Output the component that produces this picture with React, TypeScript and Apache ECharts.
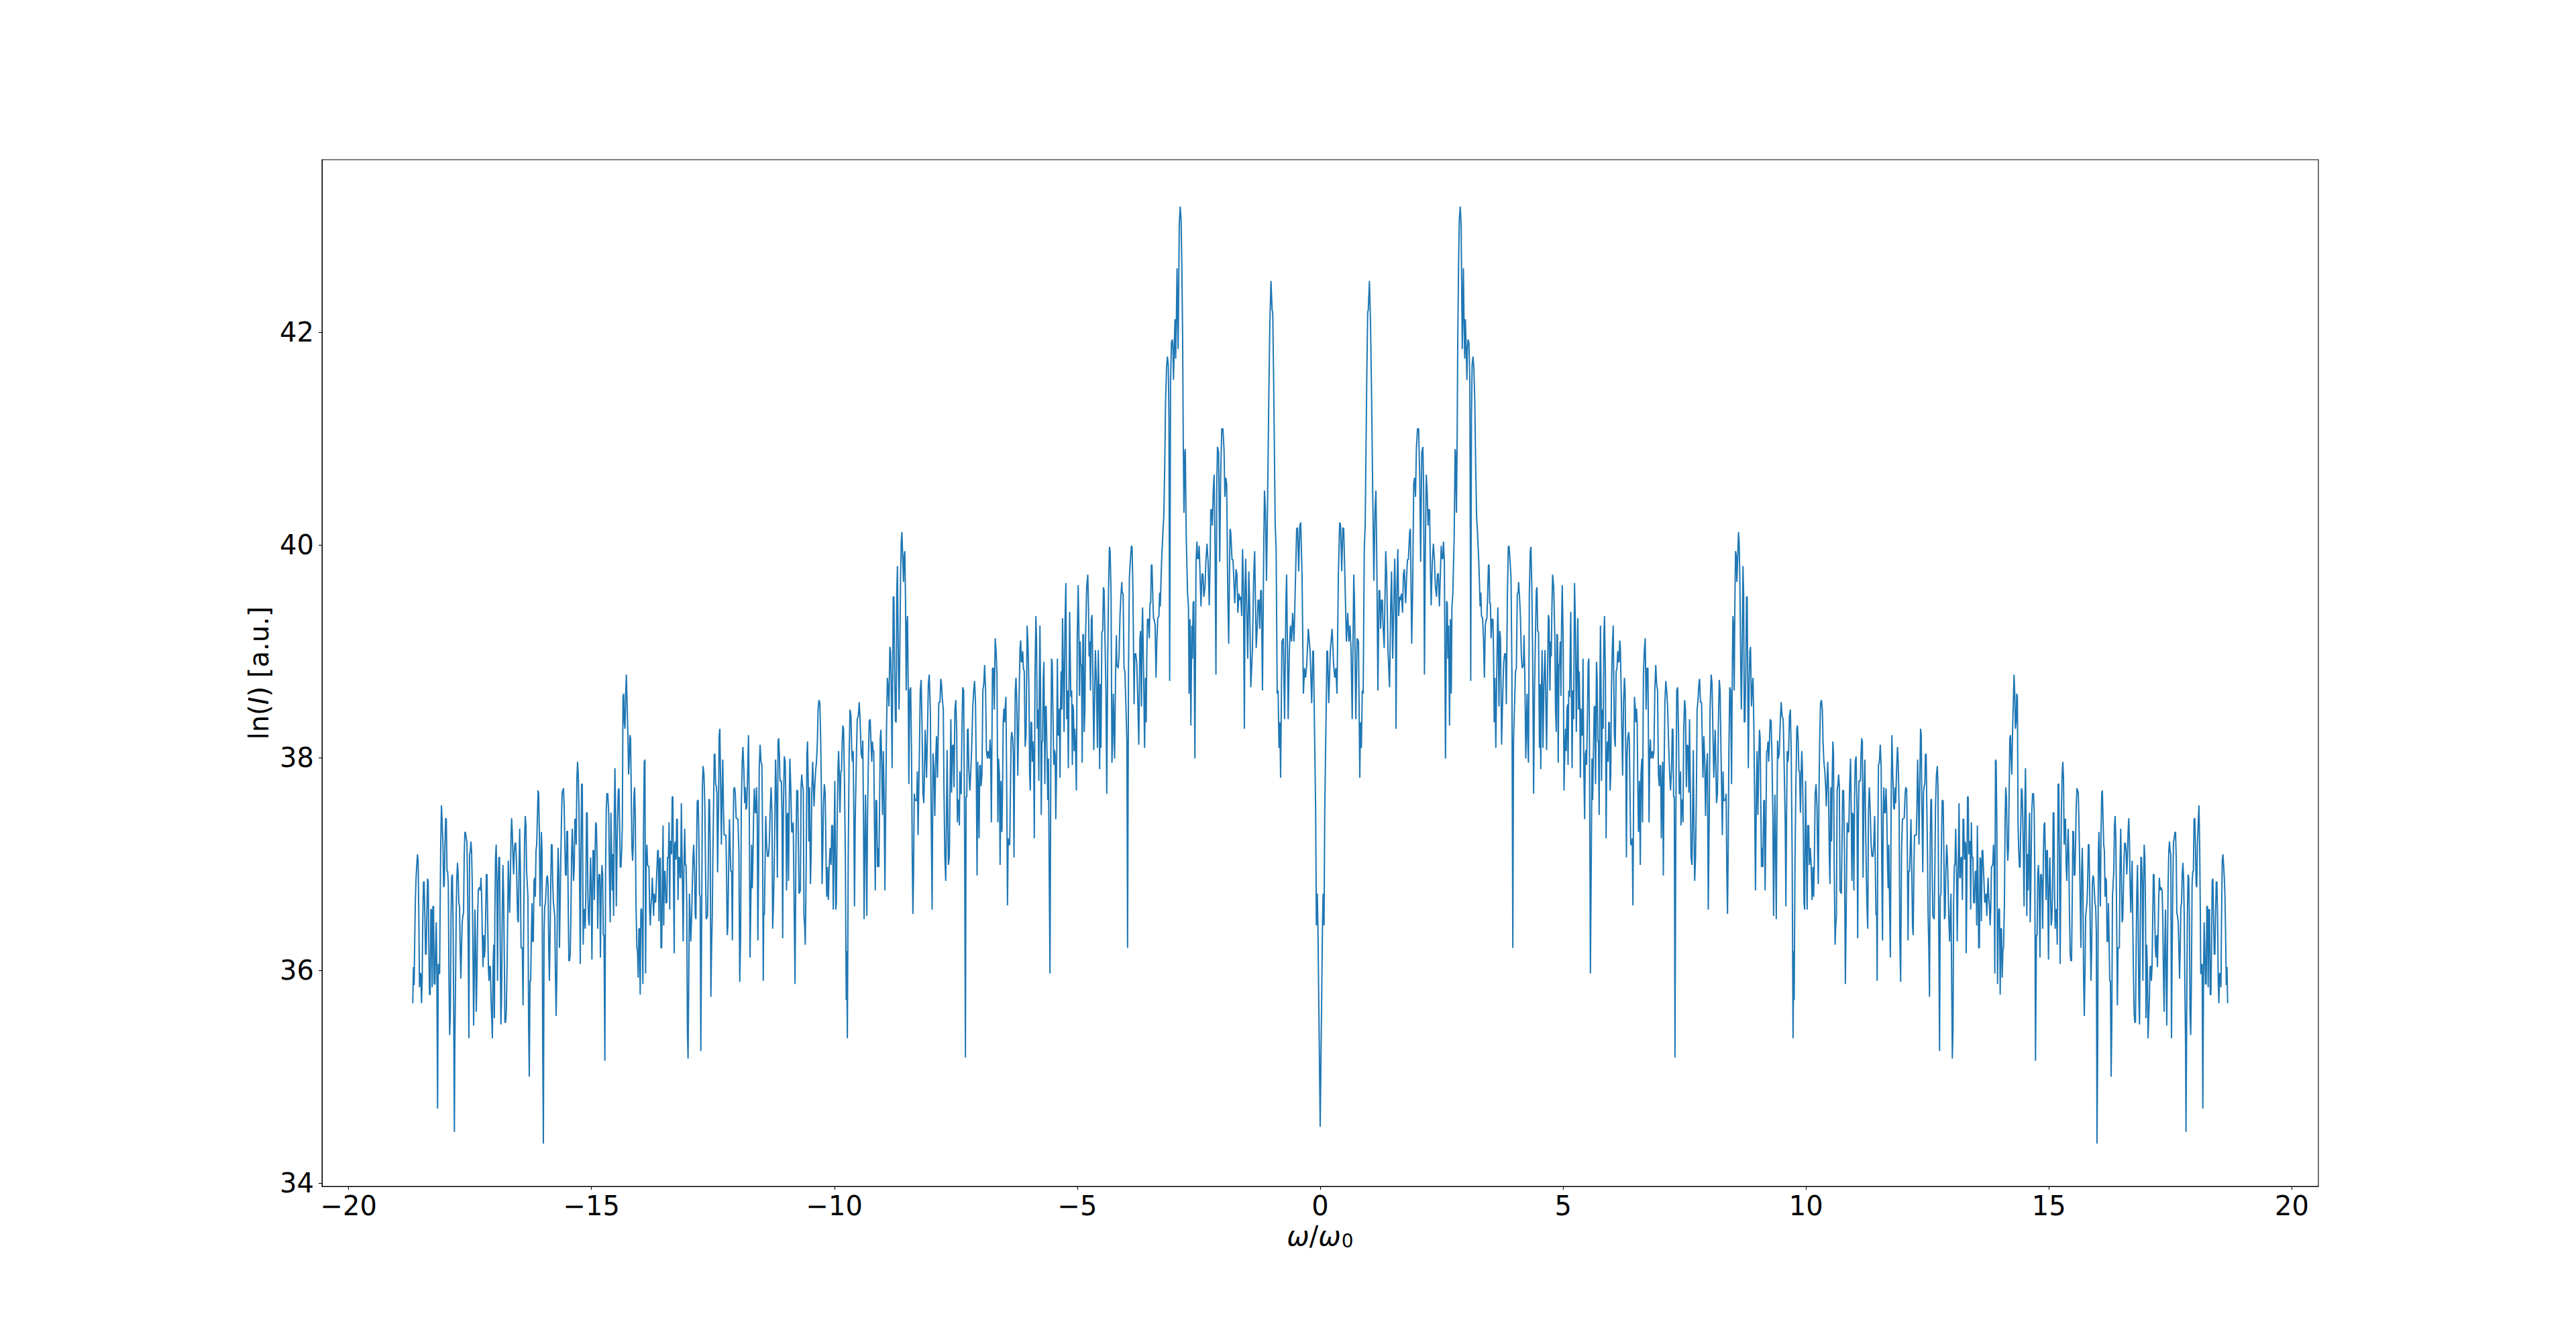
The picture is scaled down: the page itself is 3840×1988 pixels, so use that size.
import React, { useEffect, useRef } from "react";
import * as echarts from "echarts";

// Spectrum readings for ω/ω0 >= 0, as [ω/ω0, ln(I)] vertices.
// The reference is mirror-symmetric about ω = 0; the negative half is the reflection of these readings.
const SEG_0_4: [number, number][] = [
  [0, 34.53], [0.047, 36.42], [0.06, 36.72], [0.079, 36.42], [0.093, 37.48], [0.139, 39.0], [0.152, 39.0], [0.175, 38.51], [0.208, 39.0], [0.245, 39.21],
  [0.277, 38.87], [0.3, 38.75], [0.323, 38.84], [0.346, 38.6], [0.374, 39.72], [0.401, 40.21], [0.42, 40.18], [0.443, 39.75], [0.466, 40.16], [0.484, 40.15],
  [0.507, 39.72], [0.539, 39.09], [0.567, 39.36], [0.59, 39.09], [0.613, 39.24], [0.636, 39.0], [0.659, 38.36], [0.691, 39.72], [0.705, 39.48], [0.733, 38.36],
  [0.76, 39.12], [0.788, 39.09], [0.815, 37.81], [0.829, 38.33], [0.848, 38.09], [0.866, 38.63], [0.885, 38.6], [0.907, 39.96], [0.926, 40.18], [0.958, 41.54],
  [0.977, 42.18], [0.99, 42.21], [1.013, 42.48], [1.036, 42.09], [1.059, 41.36], [1.082, 40.45], [1.105, 39.66], [1.128, 40.33], [1.147, 40.51], [1.165, 39.84],
  [1.188, 38.63], [1.211, 39.57], [1.225, 39.57], [1.244, 39.21], [1.262, 39.48], [1.28, 39.48], [1.294, 39.24], [1.317, 39.03], [1.349, 39.94], [1.368, 39.72],
  [1.396, 39.0], [1.428, 38.66], [1.451, 39.42], [1.469, 39.75], [1.492, 38.93], [1.511, 39.36], [1.534, 39.87], [1.547, 39.54], [1.561, 38.27], [1.58, 39.6],
  [1.598, 39.96], [1.616, 39.33], [1.635, 39.51], [1.653, 39.48], [1.672, 39.54], [1.695, 39.36], [1.713, 39.72], [1.732, 39.77], [1.759, 39.45], [1.778, 39.69],
  [1.796, 39.86], [1.815, 39.86], [1.842, 40.12], [1.856, 40.15], [1.884, 39.07], [1.902, 39.54], [1.925, 40.57], [1.943, 40.63], [1.962, 40.45], [1.98, 40.9],
  [2.003, 41.09], [2.026, 41.09], [2.049, 40.63], [2.068, 39.84], [2.091, 40.87], [2.114, 40.92], [2.128, 40.57], [2.146, 38.78], [2.164, 39.96], [2.183, 40.66],
  [2.201, 40.51], [2.22, 40.18], [2.233, 40.33], [2.252, 40.33], [2.266, 39.84], [2.284, 39.43], [2.307, 39.84], [2.33, 40.01], [2.353, 39.84], [2.371, 39.6],
  [2.395, 39.51], [2.413, 39.72], [2.431, 39.73], [2.454, 39.42], [2.473, 39.72], [2.491, 39.99], [2.505, 39.87], [2.524, 39.87], [2.537, 40.03], [2.556, 39.84],
  [2.579, 37.99], [2.602, 39.47], [2.616, 39.45], [2.629, 38.93], [2.643, 39.24], [2.662, 38.3], [2.68, 39.3], [2.698, 38.6], [2.712, 39.42], [2.73, 39.54],
  [2.758, 40.09], [2.777, 40.9], [2.786, 40.87], [2.804, 40.3], [2.818, 40.93], [2.832, 41.96], [2.85, 42.69], [2.864, 43.06], [2.883, 43.18], [2.901, 43.0],
  [2.924, 41.84], [2.947, 42.6], [2.961, 42.09], [2.975, 41.75], [2.988, 42.12], [3.002, 41.9], [3.02, 41.55], [3.03, 41.84], [3.044, 41.93], [3.062, 41.9],
  [3.08, 41.54], [3.099, 38.72], [3.113, 41.18], [3.127, 41.69], [3.145, 41.77], [3.163, 41.66], [3.182, 41.36], [3.2, 40.75], [3.219, 40.27], [3.237, 40.12],
  [3.265, 39.84], [3.292, 39.42], [3.306, 39.55], [3.32, 39.33], [3.343, 39.31], [3.361, 39.12], [3.38, 38.75], [3.398, 39.24], [3.417, 39.3], [3.43, 39.3],
  [3.444, 39.48], [3.463, 39.81], [3.476, 39.81], [3.49, 39.45], [3.504, 39.45], [3.518, 39.12], [3.536, 39.3], [3.555, 39.3], [3.569, 38.97], [3.582, 38.33],
  [3.596, 38.75], [3.615, 38.09], [3.633, 38.75], [3.656, 39.41], [3.665, 39.24], [3.679, 38.48], [3.697, 39.19], [3.711, 39.12], [3.734, 38.12], [3.753, 38.51],
  [3.776, 38.89], [3.799, 38.98], [3.817, 38.97], [3.831, 38.5], [3.854, 39.54], [3.872, 39.98], [3.886, 39.99], [3.909, 39.84], [3.928, 39.69], [3.946, 38.81],
  [3.965, 36.21],
];

const SEG_4_8: [number, number][] = [
  [3.979, 38.15], [4.001, 38.51], [4.02, 38.81], [4.038, 38.84], [4.057, 39.54], [4.075, 39.55], [4.084, 39.65], [4.103, 39.51], [4.121, 39.33], [4.14, 38.97],
  [4.158, 38.84], [4.186, 38.87], [4.195, 39.15], [4.213, 38.75], [4.232, 37.99], [4.246, 38.33], [4.259, 38.6], [4.273, 38.15], [4.287, 37.95], [4.305, 39.54],
  [4.324, 39.94], [4.338, 39.98], [4.356, 39.6], [4.374, 38.93], [4.393, 37.66], [4.411, 38.63], [4.43, 39.12], [4.448, 39.57], [4.462, 39.6], [4.476, 39.19],
  [4.494, 39.18], [4.513, 38.09], [4.526, 38.69], [4.54, 37.89], [4.554, 38.63], [4.568, 39.01], [4.586, 38.09], [4.605, 38.69], [4.628, 39.01], [4.641, 38.63],
  [4.66, 38.07], [4.678, 38.72], [4.697, 39.34], [4.711, 39.3], [4.729, 38.63], [4.743, 39.09], [4.757, 38.95], [4.77, 39.42], [4.784, 39.72], [4.807, 39.6],
  [4.83, 39.12], [4.844, 38.45], [4.858, 38.24], [4.872, 39.16], [4.885, 39.15], [4.899, 37.95], [4.913, 38.87], [4.927, 38.87], [4.941, 39.09], [4.955, 38.58],
  [4.968, 39.24], [4.982, 39.62], [5.001, 39.12], [5.019, 37.69], [5.037, 38.12], [5.051, 38.27], [5.065, 38.06], [5.079, 38.45], [5.093, 38.5], [5.102, 37.93],
  [5.116, 38.63], [5.134, 38.57], [5.157, 39.37], [5.171, 38.63], [5.185, 37.9], [5.199, 38.63], [5.217, 38.36], [5.235, 39.64], [5.254, 39.24], [5.272, 38.24],
  [5.286, 38.75], [5.304, 39.31], [5.318, 38.45], [5.332, 38.81], [5.346, 38.45], [5.355, 37.81], [5.369, 38.46], [5.383, 38.21], [5.396, 38.21], [5.41, 38.93],
  [5.424, 37.98], [5.443, 37.42], [5.456, 38.03], [5.47, 38.07], [5.484, 37.93], [5.502, 38.45], [5.516, 38.89], [5.53, 38.93], [5.544, 38.03], [5.562, 35.97],
  [5.581, 37.12], [5.594, 37.99], [5.608, 37.6], [5.622, 37.99], [5.641, 38.48], [5.654, 38.48], [5.668, 37.75], [5.687, 38.9], [5.7, 38.75], [5.714, 38.15],
  [5.728, 38.15], [5.742, 37.46], [5.756, 38.63], [5.769, 39.24], [5.783, 38.57], [5.792, 37.78], [5.806, 38.45], [5.825, 38.27], [5.839, 39.12], [5.852, 39.33],
  [5.871, 38.75], [5.885, 37.24], [5.898, 37.99], [5.912, 38.15], [5.926, 37.96], [5.94, 38.33], [5.954, 38.33], [5.967, 37.69], [5.981, 37.84], [5.995, 38.63],
  [6.013, 39.03], [6.032, 39.24], [6.055, 38.21], [6.073, 38.1], [6.092, 38.81], [6.11, 38.84], [6.124, 39.0], [6.138, 38.9], [6.152, 38.9], [6.165, 39.1],
  [6.179, 39.03], [6.202, 38.45], [6.225, 37.83], [6.244, 38.51], [6.262, 38.75], [6.276, 38.63], [6.29, 38.03], [6.303, 37.06], [6.317, 38.03], [6.331, 38.18],
  [6.35, 38.24], [6.363, 38.16], [6.377, 37.66], [6.391, 37.18], [6.409, 37.18], [6.423, 37.24], [6.437, 36.61], [6.451, 37.63], [6.469, 38.57], [6.483, 38.48],
  [6.497, 38.33], [6.511, 38.46], [6.525, 38.33], [6.538, 37.72], [6.552, 37.3], [6.571, 37.78], [6.589, 36.99], [6.603, 37.84], [6.621, 37.99], [6.635, 37.39],
  [6.653, 38.78], [6.672, 39.01], [6.69, 39.12], [6.709, 38.45], [6.727, 38.84], [6.746, 38.84], [6.769, 37.39], [6.782, 38.03], [6.796, 38.17], [6.81, 37.99],
  [6.838, 38.06], [6.851, 37.99], [6.87, 38.06], [6.888, 38.63], [6.907, 38.87], [6.925, 38.69], [6.944, 38.63], [6.962, 37.84], [6.98, 37.73], [6.994, 37.93],
  [7.008, 37.92], [7.022, 37.24], [7.035, 37.66], [7.049, 37.96], [7.063, 36.89], [7.077, 37.78], [7.095, 38.51], [7.114, 38.72], [7.132, 38.63], [7.151, 38.48],
  [7.174, 38.09], [7.192, 37.87], [7.211, 37.69], [7.234, 37.9], [7.247, 38.27], [7.261, 38.26], [7.275, 37.63], [7.289, 37.63], [7.303, 35.18], [7.321, 37.42],
  [7.339, 38.63], [7.358, 38.66], [7.376, 38.21], [7.39, 37.66], [7.404, 37.66], [7.418, 37.87], [7.427, 37.36], [7.445, 37.6], [7.459, 37.6], [7.468, 37.39],
  [7.482, 38.24], [7.501, 38.54], [7.519, 38.45], [7.537, 37.72], [7.556, 38.12], [7.574, 38.1], [7.588, 37.67], [7.602, 38.36], [7.62, 37.66], [7.634, 37.06],
  [7.653, 36.99], [7.666, 37.51], [7.68, 38.07], [7.694, 37.36], [7.708, 36.84], [7.726, 37.06], [7.745, 37.72], [7.758, 38.45], [7.777, 38.54], [7.795, 38.69],
  [7.809, 38.74], [7.827, 38.52], [7.85, 38.52], [7.878, 37.81], [7.897, 38.2],
];

const SEG_8_12: [number, number][] = [
  [7.914, 37.99], [7.933, 37.45], [7.951, 37.9], [7.97, 38.04], [7.988, 36.57], [8.007, 37.42], [8.025, 38.45], [8.048, 38.78], [8.066, 38.69], [8.085, 38.21],
  [8.103, 37.81], [8.117, 38.06], [8.131, 38.26], [8.145, 37.9], [8.158, 37.57], [8.177, 37.66], [8.195, 38.27], [8.214, 38.73], [8.232, 38.63], [8.251, 38.03],
  [8.264, 37.66], [8.278, 37.27], [8.292, 37.87], [8.306, 37.59], [8.324, 37.6], [8.343, 37.6], [8.356, 37.66], [8.37, 36.93], [8.384, 36.53], [8.398, 37.12],
  [8.412, 38.03], [8.43, 38.66], [8.449, 38.63], [8.467, 37.75], [8.481, 38.69], [8.495, 39.33], [8.508, 39.24], [8.522, 38.63], [8.536, 39.48], [8.55, 39.94],
  [8.564, 39.9], [8.577, 39.65], [8.591, 39.84], [8.61, 40.12], [8.623, 40.03], [8.637, 39.72], [8.656, 38.87], [8.669, 38.45], [8.683, 38.87], [8.702, 39.8],
  [8.716, 39.54], [8.729, 38.33], [8.743, 38.34], [8.762, 38.87], [8.775, 39.51], [8.789, 39.51], [8.798, 38.87], [8.812, 37.9], [8.831, 38.75], [8.844, 39.0],
  [8.858, 39.04], [8.877, 38.48], [8.89, 38.63], [8.909, 38.75], [8.927, 38.27], [8.941, 37.66], [8.96, 36.75], [8.978, 37.66], [8.992, 38.06], [9.01, 37.46],
  [9.024, 37.9], [9.042, 38.26], [9.056, 38.18], [9.07, 37.54], [9.084, 36.97], [9.098, 37.15], [9.112, 36.97], [9.13, 37.59], [9.144, 37.6], [9.158, 36.75],
  [9.176, 37.42], [9.19, 38.06], [9.204, 38.06], [9.217, 38.15], [9.231, 37.96], [9.25, 38.18], [9.263, 38.36], [9.282, 38.34], [9.3, 37.99], [9.319, 37.42],
  [9.332, 36.51], [9.346, 37.12], [9.36, 37.65], [9.374, 37.12], [9.388, 36.48], [9.401, 37.42], [9.415, 38.16], [9.429, 37.99], [9.448, 38.03], [9.461, 38.21],
  [9.475, 38.39], [9.489, 38.52], [9.507, 38.39], [9.53, 38.36], [9.549, 37.96], [9.572, 37.39], [9.586, 36.6], [9.599, 37.42], [9.613, 38.06], [9.627, 37.96],
  [9.641, 38.03], [9.659, 38.39], [9.678, 38.45], [9.696, 38.03], [9.715, 37.06], [9.733, 35.36], [9.747, 36.18], [9.756, 35.72], [9.774, 37.06], [9.793, 37.78],
  [9.811, 38.27], [9.825, 38.3], [9.839, 38.15], [9.853, 37.87], [9.867, 37.87], [9.885, 37.48], [9.899, 37.84], [9.913, 38.06], [9.926, 37.9], [9.945, 37.3],
  [9.959, 36.63], [9.972, 36.57], [9.991, 37.78], [10.005, 37.24], [10.023, 36.57], [10.037, 37.36], [10.055, 37.36], [10.069, 36.99], [10.088, 37.15], [10.106, 36.99],
  [10.124, 36.66], [10.143, 36.97], [10.157, 36.69], [10.17, 36.99], [10.189, 37.66], [10.207, 37.75], [10.226, 37.54], [10.239, 37.12], [10.253, 36.81], [10.267, 37.66],
  [10.281, 38.15], [10.299, 38.51], [10.318, 38.54], [10.336, 38.45], [10.35, 38.15], [10.368, 37.96], [10.387, 37.87], [10.405, 37.72], [10.419, 37.54], [10.433, 37.75],
  [10.447, 37.96], [10.465, 37.66], [10.479, 37.09], [10.493, 36.81], [10.511, 37.72], [10.525, 37.21], [10.539, 37.78], [10.553, 38.15], [10.566, 38.03], [10.58, 36.99],
  [10.599, 36.24], [10.612, 36.42], [10.626, 36.51], [10.64, 37.69], [10.658, 37.75], [10.672, 37.84], [10.686, 37.72], [10.7, 36.75], [10.727, 36.72], [10.741, 37.18],
  [10.755, 37.69], [10.774, 37.69], [10.792, 37.12], [10.81, 35.87], [10.829, 36.63], [10.847, 37.39], [10.866, 37.3], [10.879, 37.3], [10.898, 37.72], [10.916, 37.99],
  [10.93, 37.54], [10.944, 36.84], [10.958, 37.48], [10.972, 37.45], [10.985, 36.75], [10.999, 37.6], [11.013, 37.96], [11.031, 38.01], [11.05, 37.51], [11.064, 36.3],
  [11.077, 37.42], [11.091, 37.78], [11.119, 37.78], [11.133, 38.03], [11.146, 38.18], [11.16, 38.15], [11.174, 36.87], [11.192, 37.63], [11.211, 37.98], [11.225, 37.42],
  [11.243, 36.87], [11.257, 36.57], [11.271, 36.39], [11.285, 37.48], [11.303, 37.72], [11.321, 37.51], [11.34, 37.18], [11.358, 37.07], [11.377, 37.07], [11.395, 37.18],
  [11.413, 37.45], [11.427, 36.99], [11.441, 36.52], [11.455, 36.54], [11.464, 35.9], [11.478, 37.24], [11.492, 37.93], [11.51, 37.96], [11.529, 38.12], [11.547, 37.9],
  [11.561, 36.93], [11.575, 36.28], [11.588, 37.42], [11.602, 37.72], [11.616, 37.48], [11.63, 37.48], [11.648, 37.71], [11.662, 37.48], [11.676, 37.06], [11.69, 36.77],
  [11.704, 37.18], [11.717, 36.75], [11.736, 36.12], [11.754, 37.66], [11.768, 38.21], [11.786, 37.84], [11.805, 37.53], [11.819, 37.51], [11.832, 37.72], [11.846, 37.57],
  [11.865, 37.9], [11.883, 38.1], [11.897, 37.96],
];

const SEG_12_16: [number, number][] = [
  [11.916, 37.54], [11.93, 36.33], [11.948, 35.89], [11.966, 37.12], [11.985, 37.42], [12.022, 37.43], [12.04, 37.66], [12.054, 37.72], [12.072, 37.7], [12.086, 37.12],
  [12.1, 36.28], [12.114, 36.93], [12.132, 36.93], [12.146, 37.15], [12.16, 37.42], [12.178, 36.93], [12.192, 36.42], [12.206, 36.33], [12.22, 36.93], [12.233, 37.27],
  [12.27, 37.27], [12.284, 37.54], [12.298, 37.98], [12.312, 37.66], [12.326, 37.18], [12.339, 37.66], [12.358, 38.27], [12.372, 38.21], [12.385, 37.54], [12.404, 36.92],
  [12.418, 37.66], [12.431, 37.73], [12.445, 37.75], [12.459, 38.03], [12.473, 38.03], [12.487, 37.54], [12.5, 37.12], [12.514, 36.51], [12.528, 36.21], [12.542, 35.75],
  [12.556, 37.18], [12.57, 37.6], [12.583, 37.61], [12.597, 36.93], [12.611, 36.51], [12.639, 36.48], [12.652, 36.93], [12.666, 37.54], [12.685, 37.84], [12.703, 37.92],
  [12.717, 37.72], [12.731, 36.51], [12.749, 35.24], [12.763, 36.69], [12.777, 36.72], [12.791, 37.3], [12.804, 37.6], [12.823, 37.59], [12.837, 37.12], [12.85, 36.48],
  [12.864, 36.51], [12.878, 36.93], [12.896, 37.18], [12.91, 37.06], [12.924, 36.81], [12.938, 36.51], [12.956, 36.27], [12.97, 36.51], [12.984, 36.72], [12.998, 35.9],
  [13.012, 35.17], [13.025, 35.42], [13.039, 36.63], [13.053, 36.99], [13.067, 36.99], [13.081, 37.33], [13.099, 36.9], [13.113, 36.27], [13.127, 36.81], [13.141, 37.24],
  [13.15, 37.57], [13.164, 36.87], [13.177, 36.87], [13.191, 37.06], [13.205, 37.06], [13.219, 36.66], [13.233, 37.42], [13.246, 37.42], [13.26, 37.04], [13.274, 37.21],
  [13.288, 37.18], [13.297, 36.16], [13.311, 36.81], [13.325, 37.63], [13.338, 37.63], [13.352, 37.09], [13.366, 37.21], [13.38, 37.21], [13.389, 36.57], [13.403, 37.39],
  [13.417, 37.06], [13.435, 37.06], [13.449, 36.64], [13.467, 36.63], [13.486, 36.93], [13.5, 36.93], [13.513, 36.42], [13.527, 37.36], [13.541, 36.81], [13.555, 36.21],
  [13.569, 36.21], [13.582, 37.06], [13.596, 37.03], [13.61, 36.46], [13.624, 37.12], [13.638, 37.13], [13.651, 36.97], [13.665, 36.81], [13.679, 36.64], [13.693, 36.64],
  [13.707, 36.72], [13.721, 36.51], [13.734, 36.69], [13.748, 36.87], [13.762, 36.69], [13.776, 36.6], [13.79, 36.42], [13.803, 36.57], [13.817, 36.97], [13.831, 36.98],
  [13.845, 36.99], [13.859, 37.18], [13.873, 36.99], [13.886, 35.97], [13.9, 37.98], [13.914, 37.96], [13.928, 37.36], [13.942, 35.87], [13.955, 36.39], [13.969, 36.58],
  [13.983, 36.57], [13.997, 35.77], [14.011, 36.39], [14.024, 36.39], [14.038, 35.93], [14.052, 36.18], [14.066, 36.21], [14.084, 36.63], [14.098, 37.42], [14.112, 37.72],
  [14.126, 37.63], [14.14, 37.18], [14.153, 37.03], [14.167, 37.15], [14.181, 37.66], [14.195, 38.18], [14.209, 38.21], [14.222, 37.99], [14.236, 37.84], [14.25, 38.21],
  [14.264, 38.45], [14.282, 38.78], [14.296, 38.6], [14.31, 38.27], [14.324, 38.33], [14.338, 38.6], [14.351, 38.57], [14.365, 37.36], [14.379, 37.12], [14.393, 36.97],
  [14.407, 36.97], [14.42, 37.36], [14.434, 37.71], [14.448, 37.69], [14.462, 37.42], [14.476, 37.06], [14.489, 36.6], [14.503, 37.48], [14.517, 37.9], [14.531, 37.42],
  [14.545, 36.51], [14.559, 37.09], [14.572, 36.75], [14.586, 37.12], [14.6, 37.48], [14.614, 36.45], [14.628, 36.81], [14.646, 37.48], [14.664, 37.66], [14.683, 37.66],
  [14.697, 37.48], [14.71, 36.9], [14.724, 35.15], [14.743, 36.33], [14.757, 36.33], [14.77, 36.9], [14.784, 36.99], [14.798, 36.81], [14.816, 36.12], [14.83, 36.9],
  [14.844, 36.9], [14.858, 36.81], [14.872, 36.39], [14.885, 37.06], [14.899, 37.36], [14.913, 37.39], [14.927, 37.06], [14.941, 36.66], [14.954, 37.12], [14.968, 37.13],
  [14.982, 36.51], [14.991, 36.1], [15.005, 36.78], [15.019, 37.06], [15.033, 36.75], [15.046, 36.42], [15.06, 36.48], [15.074, 36.69], [15.088, 37.48], [15.102, 37.48],
  [15.116, 36.75], [15.129, 36.39], [15.143, 36.57], [15.157, 36.57], [15.171, 36.24], [15.189, 37.75], [15.203, 37.75], [15.217, 37.06], [15.231, 36.06], [15.244, 36.81],
  [15.258, 37.54], [15.272, 37.84], [15.286, 37.96], [15.3, 37.81], [15.314, 37.18], [15.327, 37.42], [15.341, 37.42], [15.355, 36.97], [15.369, 36.84], [15.383, 37.12],
  [15.396, 37.33], [15.41, 37.06], [15.424, 36.51], [15.438, 36.15], [15.452, 36.09], [15.466, 36.09], [15.479, 36.63], [15.493, 37.31], [15.507, 37.3], [15.521, 36.89],
  [15.535, 36.9], [15.548, 37.18], [15.562, 37.54], [15.576, 37.71], [15.604, 37.67], [15.617, 37.42], [15.631, 37.06], [15.645, 36.63], [15.659, 36.21], [15.673, 36.93],
  [15.687, 37.15], [15.7, 36.81], [15.714, 35.93], [15.728, 35.57], [15.742, 35.97], [15.756, 36.51], [15.783, 36.63], [15.797, 36.81], [15.811, 37.18], [15.825, 37.18],
  [15.838, 36.81], [15.852, 36.33], [15.866, 35.9], [15.88, 36.21], [15.894, 36.81], [15.907, 36.89],
];

const SEG_16_END: [number, number][] = [
  [15.921, 36.87], [15.935, 36.75], [15.948, 36.63], [15.962, 36.6], [15.976, 36.36], [15.99, 34.37], [16.004, 35.3], [16.018, 37.12], [16.031, 37.3], [16.045, 36.93],
  [16.059, 36.6], [16.073, 37.3], [16.087, 37.66], [16.1, 37.69], [16.114, 37.42], [16.128, 37.18], [16.142, 37.12], [16.156, 36.69], [16.169, 36.87], [16.183, 36.84],
  [16.197, 36.27], [16.211, 36.27], [16.225, 36.63], [16.239, 36.27], [16.252, 35.9], [16.266, 35.9], [16.28, 35.0], [16.294, 35.48], [16.308, 36.69], [16.321, 36.81],
  [16.335, 36.93], [16.349, 37.36], [16.363, 37.45], [16.377, 37.24], [16.39, 36.69], [16.409, 35.67], [16.423, 36.21], [16.45, 36.21], [16.464, 36.99], [16.478, 37.33],
  [16.492, 36.93], [16.506, 36.45], [16.519, 36.48], [16.533, 36.75], [16.547, 37.06], [16.561, 37.2], [16.575, 37.19], [16.588, 37.12], [16.602, 36.9], [16.616, 37.06],
  [16.63, 37.3], [16.644, 37.43], [16.657, 37.24], [16.671, 36.81], [16.685, 36.54], [16.699, 36.81], [16.713, 37.03], [16.726, 36.45], [16.74, 35.97], [16.754, 35.6],
  [16.768, 35.51], [16.782, 35.51], [16.796, 36.21], [16.809, 36.72], [16.823, 36.99], [16.837, 36.51], [16.851, 35.72], [16.865, 35.49], [16.878, 36.21], [16.892, 37.06],
  [16.906, 37.06], [16.92, 36.81], [16.934, 35.9], [16.947, 36.81], [16.961, 37.18], [16.975, 37.06], [16.989, 36.51], [16.998, 35.55], [17.012, 36.24], [17.026, 36.03],
  [17.04, 35.36], [17.053, 35.54], [17.067, 35.72], [17.081, 36.03], [17.095, 36.04], [17.109, 35.9], [17.122, 36.03], [17.136, 36.45], [17.15, 36.9], [17.164, 36.9],
  [17.178, 36.51], [17.191, 36.21], [17.205, 36.12], [17.219, 36.33], [17.233, 36.03], [17.247, 36.33], [17.261, 36.69], [17.274, 36.87], [17.288, 36.75], [17.302, 36.78],
  [17.316, 36.77], [17.33, 36.75], [17.343, 36.51], [17.357, 35.97], [17.371, 35.61], [17.385, 36.21], [17.399, 36.57], [17.412, 35.97], [17.426, 35.48], [17.44, 36.21],
  [17.454, 36.81], [17.468, 37.12], [17.482, 37.21], [17.495, 37.12], [17.509, 37.09], [17.523, 35.36], [17.537, 36.21], [17.551, 36.81], [17.564, 37.21], [17.578, 37.24],
  [17.592, 37.29], [17.606, 37.3], [17.62, 37.06], [17.633, 36.54], [17.647, 36.51], [17.661, 36.45], [17.675, 36.21], [17.689, 35.92], [17.703, 36.21], [17.716, 36.6],
  [17.73, 36.63], [17.744, 36.9], [17.758, 37.01], [17.772, 36.87], [17.785, 36.51], [17.799, 35.84], [17.813, 35.3], [17.822, 34.48], [17.836, 35.6], [17.85, 36.51],
  [17.864, 36.9], [17.878, 36.87], [17.891, 36.51], [17.905, 35.6], [17.919, 35.39], [17.933, 35.9], [17.947, 36.81], [17.961, 36.93], [17.974, 36.93], [17.988, 37.42],
  [18.002, 37.43], [18.016, 37.18], [18.03, 36.81], [18.043, 36.78], [18.057, 37.18], [18.076, 37.42], [18.089, 37.55], [18.103, 37.18], [18.117, 36.51], [18.126, 35.97],
  [18.14, 35.97], [18.154, 36.06], [18.168, 34.7], [18.182, 35.9], [18.195, 36.45], [18.209, 36.21], [18.223, 35.87], [18.237, 35.87], [18.251, 36.6], [18.264, 36.6],
  [18.278, 35.84], [18.292, 36.57], [18.306, 36.57], [18.32, 35.77], [18.334, 35.77], [18.347, 36.21], [18.361, 36.84], [18.375, 36.86], [18.389, 36.51], [18.403, 36.15],
  [18.416, 36.15], [18.43, 36.51], [18.444, 36.83], [18.458, 36.83], [18.472, 36.51], [18.485, 35.9], [18.499, 35.69], [18.513, 35.97], [18.527, 35.97], [18.541, 35.84],
  [18.554, 36.51], [18.568, 37.03], [18.582, 37.09], [18.596, 36.99], [18.61, 36.87], [18.624, 36.69], [18.637, 36.33], [18.651, 35.86], [18.665, 36.03], [18.679, 35.69],
];

const X_TICKS = [-20, -15, -10, -5, 0, 5, 10, 15, 20];
const Y_TICKS = [34, 36, 38, 40, 42];
const X_RANGE = [-20.547, 20.547];
const Y_RANGE = [33.968, 43.62];

const LINE_COLOR = "#1f77b4";
const FONT = "DejaVu Sans";

function buildSeries(): [number, number][] {
  const pos = [...SEG_0_4, ...SEG_4_8, ...SEG_8_12, ...SEG_12_16, ...SEG_16_END];
  const neg: [number, number][] = pos
    .slice(1)
    .reverse()
    .map(([w, v]) => [-w, v] as [number, number]);
  return [...neg, ...pos];
}

function fmtTick(v: number): string {
  return v < 0 ? "\u2212" + Math.abs(v) : String(v);
}

export default function App() {
  const ref = useRef<HTMLDivElement>(null);

  useEffect(() => {
    document.body.style.margin = "0";
    if (!ref.current) return;
    const chart = echarts.init(ref.current, null, { renderer: "svg" });
    const labelStyle = { fontSize: 40, fontFamily: FONT, color: "#000" };
    chart.setOption({
      animation: false,
      backgroundColor: "#ffffff",
      grid: {
        left: 480,
        top: 238,
        width: 2976,
        height: 1530,
        show: true,
        borderColor: "#000",
        borderWidth: 1.1,
        backgroundColor: "transparent",
      },
      xAxis: {
        type: "value",
        min: X_RANGE[0],
        max: X_RANGE[1],
        splitLine: { show: false },
        axisLine: { onZero: false, lineStyle: { color: "#000", width: 1.1 } },
        axisTick: { customValues: X_TICKS, length: 5, lineStyle: { color: "#000", width: 1.1 } },
        axisLabel: { customValues: X_TICKS, formatter: (v: number) => fmtTick(v), margin: 9, ...labelStyle },
        name: "{i|ω}/{i|ω}{s|0}",
        nameLocation: "middle",
        nameGap: 50,
        nameTextStyle: {
          ...labelStyle,
          rich: {
            i: { fontStyle: "italic", fontSize: 40, fontFamily: FONT, color: "#000", lineHeight: 44 },
            s: { fontSize: 28, fontFamily: FONT, color: "#000", lineHeight: 28, verticalAlign: "bottom", padding: [0, 0, 0, 1] },
          },
        },
      },
      yAxis: {
        type: "value",
        min: Y_RANGE[0],
        max: Y_RANGE[1],
        splitLine: { show: false },
        axisLine: { show: true, onZero: false, lineStyle: { color: "#000", width: 1.1 } },
        axisTick: { show: true, customValues: Y_TICKS, length: 5, lineStyle: { color: "#000", width: 1.1 } },
        axisLabel: { customValues: Y_TICKS, formatter: (v: number) => fmtTick(v), margin: 12, ...labelStyle },
        name: "ln({i|I}) [a.u.]",
        nameLocation: "middle",
        nameGap: 66,
        nameTextStyle: {
          ...labelStyle,
          rich: { i: { fontStyle: "italic", fontSize: 40, fontFamily: FONT, color: "#000" } },
        },
      },
      series: [
        {
          type: "line",
          data: buildSeries(),
          showSymbol: false,
          symbol: "none",
          lineStyle: { width: 2, color: LINE_COLOR },
          itemStyle: { color: LINE_COLOR },
          clip: true,
        },
      ],
    });
    return () => chart.dispose();
  }, []);

  return (
    <div
      ref={ref}
      style={{ position: "absolute", left: 0, top: 0, width: 3840, height: 1988 }}
    />
  );
}
